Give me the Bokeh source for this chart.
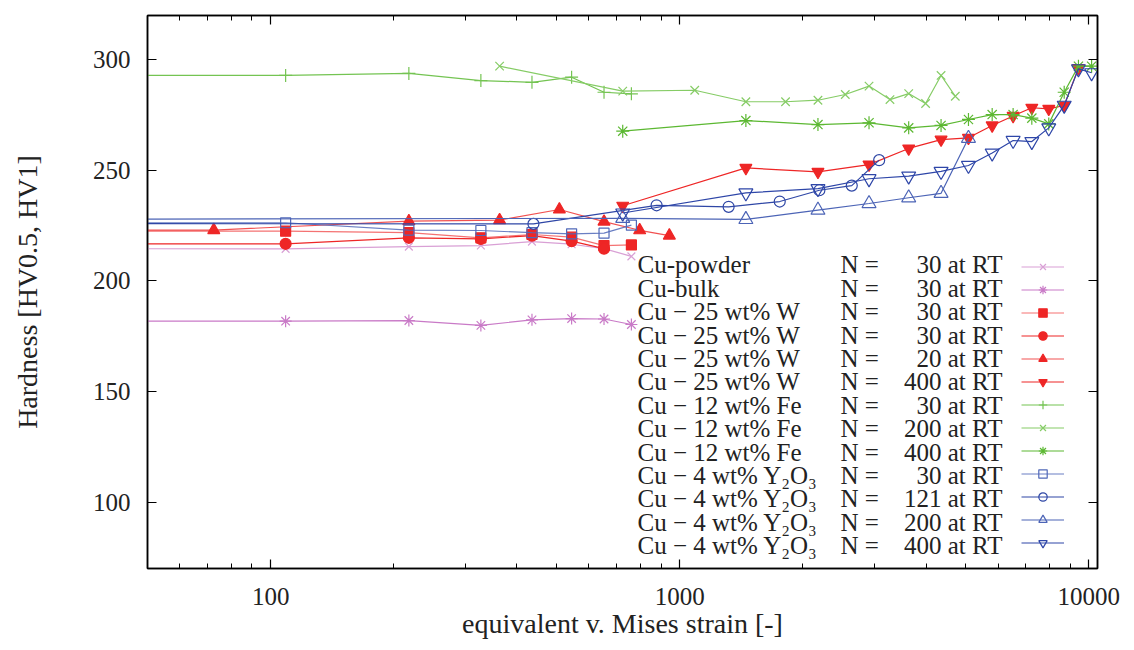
from bokeh.plotting import figure
from bokeh.models import (LogAxis, LinearAxis, Legend, LegendItem, Label, FixedTicker, LogTicker,
                          BasicTickFormatter)
from bokeh.core.properties import value
from bokeh.embed import file_html
from bokeh.resources import INLINE

FONT = "Liberation Serif"

# ---------------- data (equivalent strain, hardness) ----------------
# first point of several series = disc centre (strain ~1, outside the visible range)
x_n30 = [1, 108.8, 217.7, 326.5, 435.3, 544.1, 653.0, 761.8]
x_n30b = [1, 108.8, 217.7, 326.5, 435.3, 544.1, 653.0]
x_n20 = [1, 72.6, 217.7, 362.8, 507.9, 653.0, 798.1, 943.2]
x_n121 = [1, 438.9, 877.8, 1316.7, 1755.6, 2194.5, 2633.4, 3072.3]
x_n200c = [1, 725.5, 1451, 2177, 2902, 3628, 4353, 5079]
x_n200 = [362.8, 725.5, 1088, 1451, 1814, 2177, 2539, 2902, 3265, 3628, 3990, 4353, 4716]
x_n400 = [725.5, 1451, 2177, 2902, 3628, 4353, 5079, 5804, 6530, 7255, 7981, 8706, 9432, 10157]
x_n400w = [725.5, 1451, 2177, 2902, 3628, 4353, 5079, 5804, 6530, 7255, 7981, 8706, 9432]

hv_powder = [214.8, 214.5, 215.5, 216.0, 217.8, 216.6, 214.6, 211.1]
hv_bulk = [181.8, 181.8, 182.1, 179.9, 182.4, 183.0, 182.8, 180.3]
hv_w30a = [222.5, 222.5, 221.8, 219.5, 221.0, 219.8, 216.0, 216.3]
hv_w30b = [216.5, 216.8, 219.5, 219.0, 220.5, 218.0, 214.6]
hv_w20 = [222.5, 223.0, 227.0, 227.5, 232.3, 226.8, 222.9, 220.5]
hv_w400 = [234.0, 251.1, 249.3, 252.6, 259.9, 263.9, 264.7, 270.3, 274.6, 278.3, 277.8, 279.3, 296.2]
hv_fe30 = [292.9, 292.9, 293.8, 290.6, 289.8, 292.1, 285.3, 284.6]
hv_fe200 = [297.1, 285.8, 286.2, 281.0, 281.0, 281.7, 284.3, 288.1, 282.0, 284.7, 280.2, 292.9, 283.5]
hv_fe400 = [267.7, 272.5, 270.7, 271.5, 269.2, 270.3, 273.0, 275.2, 275.2, 273.6, 271.0, 285.3, 297.1, 297.1]
hv_y30 = [226.0, 226.3, 223.0, 222.8, 221.8, 221.3, 221.6, 225.2]
hv_y121 = [226.0, 225.8, 234.2, 233.5, 235.9, 241.0, 243.1, 254.6]
hv_y200 = [227.5, 228.3, 227.8, 232.0, 235.0, 237.6, 239.6, 264.5]
hv_y400 = [230.7, 239.8, 241.7, 246.2, 247.4, 249.5, 252.2, 257.8, 263.5, 263.0, 269.2, 279.4, 295.9, 294.1]

legend_names = ["Cu-powder", "Cu-bulk",
                "Cu \u2212 25 wt% W", "Cu \u2212 25 wt% W", "Cu \u2212 25 wt% W", "Cu \u2212 25 wt% W",
                "Cu \u2212 12 wt% Fe", "Cu \u2212 12 wt% Fe", "Cu \u2212 12 wt% Fe",
                "Cu \u2212 4 wt% Y\u2082O\u2083", "Cu \u2212 4 wt% Y\u2082O\u2083",
                "Cu \u2212 4 wt% Y\u2082O\u2083", "Cu \u2212 4 wt% Y\u2082O\u2083"]
legend_n = [30, 30, 30, 30, 20, 400, 30, 200, 400, 30, 121, 200, 400]

y_ticks = [100, 150, 200, 250, 300]
x_ticks = [100, 1000, 10000]

# ---------------- series styling ----------------
series = [
    (x_n30, hv_powder, "x", "#d9a0d5", 1.0, None, 11),
    (x_n30, hv_bulk, "asterisk", "#c97ac7", 1.0, None, 12),
    (x_n30, hv_w30a, "square", "#ee2626", 0.65, "#ee2626", 10),
    (x_n30b, hv_w30b, "circle", "#ee2626", 1.0, "#ee2626", 11),
    (x_n20, hv_w20, "triangle", "#ee2626", 0.8, "#ee2626", 12),
    (x_n400w, hv_w400, "inverted_triangle", "#ee2626", 1.0, "#ee2626", 12),
    (x_n30, hv_fe30, "cross", "#74c452", 1.0, None, 13),
    (x_n200, hv_fe200, "x", "#86cc66", 1.0, None, 12),
    (x_n400, hv_fe400, "asterisk", "#5cb832", 1.0, None, 13),
    (x_n30, hv_y30, "square", "#5068b8", 0.85, None, 10),
    (x_n121, hv_y121, "circle", "#2f47a6", 1.0, None, 11),
    (x_n200c, hv_y200, "triangle", "#4c64b6", 1.0, None, 14),
    (x_n400, hv_y400, "inverted_triangle", "#2e46a8", 1.0, None, 14),
]

p = figure(width=1126, height=648, x_axis_type="log", x_range=(50, 10500), y_range=(70, 320),
           output_backend="svg", toolbar_location=None,
           min_border_left=147, min_border_right=29, min_border_top=15, min_border_bottom=80)
p.grid.visible = False
p.outline_line_color = "black"
p.outline_line_width = 1.5
p.background_fill_color = "white"
p.border_fill_color = "white"

items = []
for xs, ys, marker, color, lalpha, fill, size in series:
    rl = p.line(xs, ys, line_color=color, line_width=1.2, line_alpha=lalpha)
    rs = p.scatter(xs, ys, marker=marker, size=size, line_color=color, line_width=1.2,
                   fill_color=fill, fill_alpha=1.0 if fill else 0.0)
    items.append(LegendItem(label=value(" "), renderers=[rl, rs]))


def style_axis(ax, ticks, labels=True):
    ax.axis_line_color = "black"
    ax.axis_line_width = 1.5
    ax.major_tick_line_color = "black"
    ax.minor_tick_line_color = "black"
    ax.major_tick_line_width = 1.2
    ax.minor_tick_line_width = 1.0
    ax.major_tick_in = 9
    ax.major_tick_out = 0
    ax.minor_tick_in = 5
    ax.minor_tick_out = 0
    ax.major_label_text_font = FONT
    ax.major_label_text_color = "#222222"
    if labels:
        ax.major_label_text_font_size = "25px"
    else:
        ax.major_label_text_font_size = "4px"
        ax.major_label_standoff = 0
        ax.major_label_overrides = {t: " " for t in ticks}


xb = p.xaxis[0]
xb.ticker = LogTicker(mantissas=[1], num_minor_ticks=10)
xb.formatter = BasicTickFormatter(use_scientific=False)
style_axis(xb, x_ticks)
xb.major_label_standoff = 19
xb.axis_label = "equivalent v. Mises strain [-]"
xb.axis_label_text_font = FONT
xb.axis_label_text_font_size = "28px"
xb.axis_label_text_font_style = "normal"
xb.axis_label_text_color = "#222222"
xb.axis_label_standoff = 0

yl = p.yaxis[0]
yl.ticker = FixedTicker(ticks=y_ticks, minor_ticks=[])
style_axis(yl, y_ticks)
yl.major_label_standoff = 17
yl.axis_label = "Hardness [HV0.5, HV1]"
yl.axis_label_text_font = FONT
yl.axis_label_text_font_size = "28px"
yl.axis_label_text_font_style = "normal"
yl.axis_label_text_color = "#222222"
yl.axis_label_standoff = 47

xt = LogAxis(ticker=LogTicker(mantissas=[1], num_minor_ticks=10))
style_axis(xt, x_ticks, labels=False)
p.add_layout(xt, "above")

yr = LinearAxis(ticker=FixedTicker(ticks=y_ticks, minor_ticks=[]))
style_axis(yr, y_ticks, labels=False)
p.add_layout(yr, "right")

legend = Legend(items=items, location=(874, 15), glyph_width=43, glyph_height=21, spacing=2,
                padding=0, margin=0, label_standoff=0, label_width=1, label_height=21,
                label_text_font_size="10px", border_line_color=None, background_fill_alpha=0.0)
p.add_layout(legend)

# legend texts (to the left of the samples, as in the reference)
for i, (name, n) in enumerate(zip(legend_names, legend_n)):
    yy = 303.7 - 23.4 * i
    common = dict(x_units="screen", y_units="screen", y=yy, text_font=FONT,
                  text_font_size="25px", text_color="#222222", text_baseline="middle")
    p.add_layout(Label(x=490, text=name, text_align="left", **common))
    p.add_layout(Label(x=693, text="N =", text_align="left", **common))
    p.add_layout(Label(x=855, text=f"{n} at RT", text_align="right", **common))

open("out.html", "w").write(file_html(p, INLINE))
